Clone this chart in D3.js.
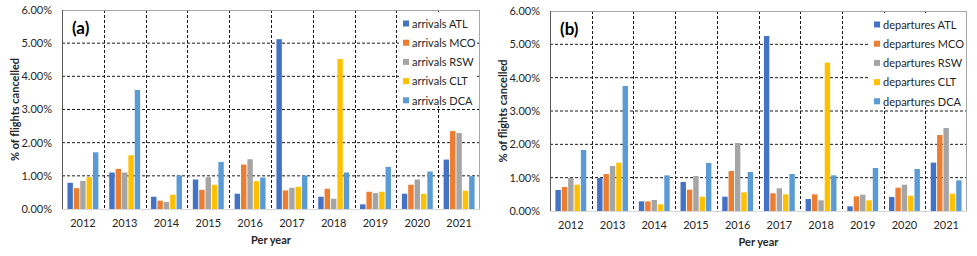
<!DOCTYPE html>
<html>
<head>
<meta charset="utf-8">
<script src="https://cdn.jsdelivr.net/npm/d3@7"></script>
<style>
    body { margin: 0; background: #fff; }
    text { font-family: Lato, "Open Sans", sans-serif; fill: #262626; }
</style>
</head>
<body>
<div id="chart"></div>
<script>
// ---- data (percent of flights cancelled) ----
let years = ["2012","2013","2014","2015","2016","2017","2018","2019","2020","2021"];
let airports = ["ATL","MCO","RSW","CLT","DCA"];
let airportColors = ["#4472C4","#ED7D31","#A5A5A5","#FFC000","#5B9BD5"];
let yTicks = [0, 1, 2, 3, 4, 5, 6];

let arrivalsATL = [0.79, 1.10, 0.37, 0.89, 0.46, 5.12, 0.37, 0.14, 0.46, 1.49];
let arrivalsMCO = [0.63, 1.21, 0.25, 0.58, 1.34, 0.56, 0.61, 0.52, 0.73, 2.35];
let arrivalsRSW = [0.85, 1.10, 0.21, 0.96, 1.50, 0.64, 0.31, 0.48, 0.89, 2.29];
let arrivalsCLT = [0.96, 1.62, 0.43, 0.73, 0.84, 0.67, 4.52, 0.52, 0.46, 0.55];
let arrivalsDCA = [1.71, 3.59, 1.01, 1.42, 0.95, 1.01, 1.10, 1.27, 1.13, 0.99];

let departuresATL = [0.63, 0.99, 0.29, 0.87, 0.43, 5.25, 0.36, 0.14, 0.42, 1.45];
let departuresMCO = [0.72, 1.11, 0.29, 0.64, 1.20, 0.53, 0.50, 0.44, 0.70, 2.28];
let departuresRSW = [0.99, 1.35, 0.33, 1.05, 2.04, 0.68, 0.32, 0.49, 0.79, 2.49];
let departuresCLT = [0.79, 1.45, 0.20, 0.43, 0.56, 0.50, 4.45, 0.32, 0.46, 0.52];
let departuresDCA = [1.83, 3.75, 1.07, 1.44, 1.17, 1.11, 1.07, 1.29, 1.26, 0.92];

let svg = d3.select("#chart").append("svg")
    .attr("width", 977)
    .attr("height", 256);

// draws one panel
function drawPanel(opts) {
    let m = opts.margin;
    let g = svg.append("g")
        .attr("transform", "translate(" + m.left + "," + m.top + ")");

    let x0 = d3.scaleBand().domain(years).range([0, opts.width]);
    let x1 = d3.scaleBand().domain(airports)
        .range([x0.bandwidth() * 0.13, x0.bandwidth() * 0.87])
        .paddingInner(0.15);
    let y = d3.scaleLinear().domain([0, 6]).range([opts.height, 0]);
    let color = d3.scaleOrdinal().domain(airports).range(airportColors);

    // horizontal grid
    g.append("g").selectAll("line")
        .data(yTicks.slice(1, -1))
        .enter().append("line")
        .attr("x1", 0).attr("x2", opts.width)
        .attr("y1", d => y(d)).attr("y2", d => y(d))
        .attr("stroke", "#1a1a1a")
        .attr("stroke-width", 1)
        .attr("stroke-dasharray", "3,2");

    // vertical grid between years
    g.append("g").selectAll("line")
        .data(years.slice(1))
        .enter().append("line")
        .attr("x1", d => Math.round(x0(d)) + 0.5).attr("x2", d => Math.round(x0(d)) + 0.5)
        .attr("y1", 0).attr("y2", opts.height)
        .attr("stroke", "#1a1a1a")
        .attr("stroke-width", 1)
        .attr("stroke-dasharray", "3,2");

    // frame
    g.append("rect")
        .attr("x", 0.5).attr("y", 0.5)
        .attr("width", opts.width - 1).attr("height", opts.height)
        .attr("fill", "none")
        .attr("stroke", "#a6a6a6");

    // bars
    let groups = g.append("g").selectAll("g")
        .data(years)
        .enter().append("g")
        .attr("transform", d => "translate(" + x0(d) + ",0)");

    groups.selectAll("rect")
        .data((d, i) => airports.map((a, j) => ({airport: a, value: opts.series[j][i]})))
        .enter().append("rect")
        .attr("x", d => x1(d.airport))
        .attr("width", x1.bandwidth())
        .attr("y", d => y(d.value))
        .attr("height", d => y(0) - y(d.value))
        .attr("fill", d => color(d.airport));

    // x axis baseline
    g.append("line")
        .attr("x1", 0).attr("x2", opts.width)
        .attr("y1", opts.height + 0.5).attr("y2", opts.height + 0.5)
        .attr("stroke", "#d9d9d9");

    // left axis line
    g.append("line")
        .attr("x1", 0.5).attr("x2", 0.5)
        .attr("y1", 0).attr("y2", opts.height)
        .attr("stroke", "#595959");

    // y tick labels
    g.append("g").selectAll("text")
        .data(yTicks)
        .enter().append("text")
        .attr("x", -10)
        .attr("y", d => y(d))
        .attr("dy", "0.35em")
        .attr("text-anchor", "end")
        .style("font-size", "11px")
        .text(d => d3.format(".2f")(d) + "%");

    // x tick labels
    g.append("g").selectAll("text")
        .data(years)
        .enter().append("text")
        .attr("x", d => x0(d) + x0.bandwidth() / 2)
        .attr("y", opts.height + 14)
        .attr("dy", "0.35em")
        .attr("text-anchor", "middle")
        .style("font-size", "11px")
        .text(d => d);

    // axis titles
    g.append("text")
        .attr("x", opts.width / 2)
        .attr("y", opts.height + 31)
        .attr("dy", "0.35em")
        .attr("text-anchor", "middle")
        .style("font-size", "11px")
        .style("font-weight", "bold")
        .text("Per year");

    g.append("text")
        .attr("transform", "translate(" + (-47) + "," + (opts.height / 2) + ") rotate(-90)")
        .attr("dy", "0.35em")
        .attr("text-anchor", "middle")
        .style("font-size", "11px")
        .style("font-weight", "bold")
        .text("% of flights cancelled");

    // panel label
    g.append("text")
        .attr("x", 10)
        .attr("y", 24)
        .style("font-size", "17px")
        .style("font-weight", "bold")
        .style("fill", "#000")
        .text(opts.label);

    // legend
    let lg = g.append("g")
        .attr("transform", "translate(" + opts.legendX + ",2)");
    lg.append("rect")
        .attr("width", opts.legendW).attr("height", 94)
        .attr("fill", "#fff");
    let items = lg.selectAll("g")
        .data(airports)
        .enter().append("g")
        .attr("transform", (d, i) => "translate(4," + (12 + i * 19.2) + ")");
    items.append("rect")
        .attr("x", 0).attr("y", -3.5)
        .attr("width", 6).attr("height", 6)
        .attr("fill", d => color(d));
    items.append("text")
        .attr("x", 9)
        .attr("dy", "0.35em")
        .style("font-size", "11px")
        .text(d => opts.prefix + " " + d);
}

drawPanel({
    margin: {left: 62, top: 10},
    width: 418, height: 199,
    label: "(a)",
    prefix: "arrivals",
    legendX: 337, legendW: 77,
    series: [arrivalsATL, arrivalsMCO, arrivalsRSW, arrivalsCLT, arrivalsDCA]
});

drawPanel({
    margin: {left: 550, top: 11},
    width: 417, height: 200,
    label: "(b)",
    prefix: "departures",
    legendX: 320, legendW: 96,
    series: [departuresATL, departuresMCO, departuresRSW, departuresCLT, departuresDCA]
});
</script>
</body>
</html>
